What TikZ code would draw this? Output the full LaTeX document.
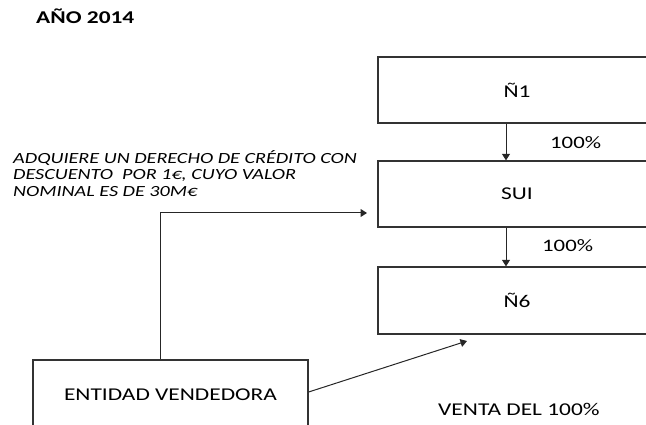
\documentclass[tikz,border=0pt]{standalone}
\usepackage{fontspec}
\setmainfont{Carlito}[FakeStretch=1.3]
\usetikzlibrary{arrows.meta,calc}
\begin{document}
\begin{tikzpicture}[x=1pt,y=-1pt,
  box/.style={draw=black!80,line width=1.3pt,minimum width=278pt,minimum height=66pt,inner sep=0pt,font=\fontsize{18}{20}\selectfont},
  conn/.style={draw=black!85,line width=1pt,-{Triangle[width=8pt,length=6.5pt]}},
  lbl/.style={anchor=west,inner sep=0pt,font=\fontsize{18}{20}\selectfont}]
\useasboundingbox (0,0) rectangle (646,425);
\clip (0,0) rectangle (646,425);
\node[box] (n1) at (517,90) {Ñ1};
\node[box] (sui) at (517,194) {SUI};
\node[box,minimum height=67pt] (n6) at (517,300.5) {Ñ6};
\node[box,minimum width=275pt,minimum height=70pt] (ent) at (170.5,395) {ENTIDAD VENDEDORA};
\node[anchor=west,inner sep=0pt,font=\fontsize{18}{20}\selectfont\bfseries] (title) at (36,16) {AÑO 2014};
\node[anchor=north west,inner sep=0pt,align=left,font=\fontsize{15.5}{16.5}\selectfont\itshape] (desc) at (13,150) {ADQUIERE UN DERECHO DE CRÉDITO CON\\DESCUENTO\ \ POR 1€, CUYO VALOR\\NOMINAL ES DE 30M€};
\node[lbl,font=\fontsize{17.5}{20}\selectfont] (p1) at (550,143) {100\%};
\node[lbl,font=\fontsize{17.5}{20}\selectfont] (p2) at (542,246) {100\%};
\node[lbl] (venta) at (438,409) {VENTA DEL 100\%};
\coordinate (ax) at (506,0);
\coordinate (ex) at (160,0);
\coordinate (suiin) at (367,213);
\coordinate (n6in) at (467,341);
\draw[conn] (n1.south -| ax) -- (sui.north -| ax);
\draw[conn] (sui.south -| ax) -- (n6.north -| ax);
\draw[conn] (ent.north -| ex) |- (suiin);
\draw[conn] (ent.east) ++(0,-3) -- (n6in);
\end{tikzpicture}
\end{document}
